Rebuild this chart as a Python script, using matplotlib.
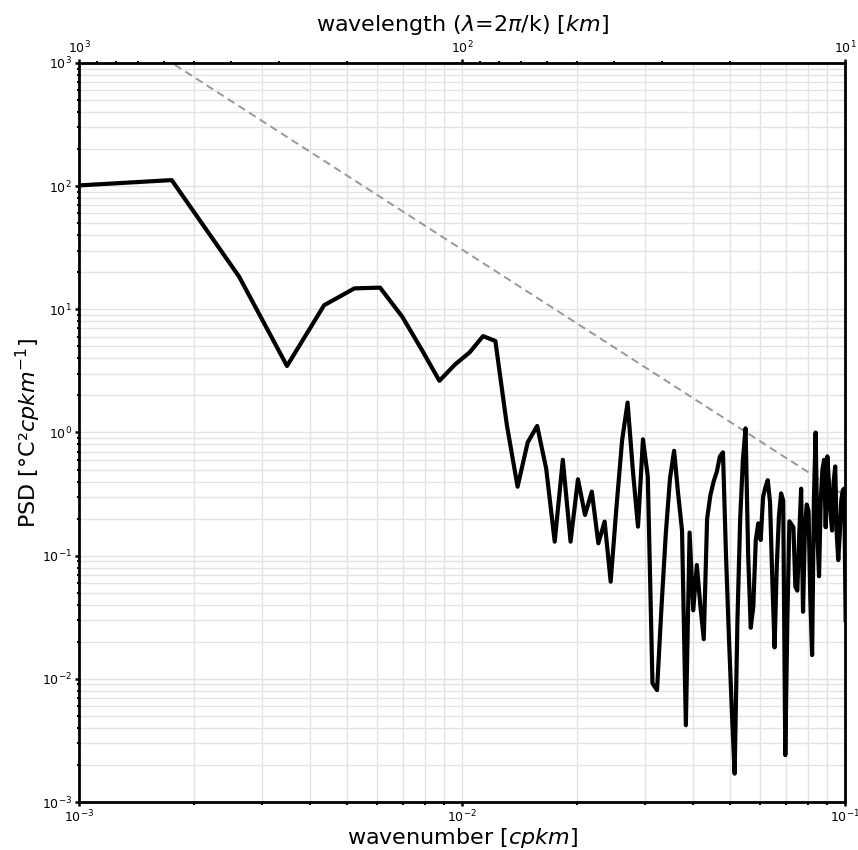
import numpy as np
import matplotlib
matplotlib.use('Agg')
import matplotlib.pyplot as plt

# wavenumber spacing [cpkm] and spectral estimates
dk = 0.000873
psd = [99, 112, 18.4, 3.47, 10.8, 14.8, 15.0, 8.7, 4.68, 2.63,
       3.58, 4.48, 6.06, 5.53, 1.15, 0.363, 0.83, 1.13, 0.51, 0.13,
       0.60, 0.13, 0.417, 0.214, 0.331, 0.126, 0.189, 0.0615, 0.25, 0.87,
       1.75, 0.49, 0.172, 0.88, 0.44, 0.0092, 0.0081, 0.038, 0.15, 0.425,
       0.71, 0.32, 0.16, 0.0042, 0.154, 0.036, 0.084, 0.0395, 0.021, 0.20,
       0.31, 0.40, 0.48, 0.64, 0.69, 0.103, 0.022, 0.0056, 0.0017, 0.03,
       0.2, 0.6, 1.08, 0.10, 0.026, 0.0386, 0.134, 0.183, 0.134, 0.30,
       0.36, 0.41, 0.27, 0.063, 0.018, 0.081, 0.21, 0.32, 0.28, 0.0024,
       0.03, 0.19, 0.18, 0.17, 0.056, 0.052, 0.15, 0.35, 0.035, 0.16,
       0.26, 0.23, 0.044, 0.0156, 0.28, 1.0, 0.15, 0.068, 0.28, 0.5,
       0.6, 0.17, 0.64, 0.39, 0.22, 0.16, 0.4, 0.53, 0.15, 0.092,
       0.15, 0.28, 0.34, 0.35, 0.03]

# reference slope line: PSD = amp * k^slope
ref_amp = 3.06e-3
ref_slope = -2

k = dk * np.arange(1, len(psd) + 1)
psd = np.array(psd)

fig = plt.figure(figsize=(8.58, 8.5), dpi=100)
ax = fig.add_axes([79 / 858, 1 - 802 / 850, 766 / 858, 739 / 850])

ax.loglog(k, psd, color='black', lw=3, zorder=3)
kk = np.logspace(-3, -1, 200)
ax.loglog(kk, ref_amp * kk ** ref_slope, color='#999999', lw=1.4,
          ls=(0, (4, 2.5)), zorder=2)

ax.set_xlim(1e-3, 1e-1)
ax.set_ylim(1e-3, 1e3)
ax.grid(True, which='both', color='#e3e3e3', lw=1, zorder=0)
ax.set_axisbelow(True)

for s in ax.spines.values():
    s.set_linewidth(2)
ax.tick_params(which='major', labelsize=9, width=1.8, length=3, pad=2)
ax.tick_params(which='minor', width=1.5, length=1.8)

ax.set_xlabel('wavenumber [$cpkm$]', fontsize=16, labelpad=0)
ax.set_ylabel('PSD [°C²$cpkm^{-1}$]', fontsize=16, labelpad=-1)

top = ax.secondary_xaxis('top', functions=(lambda x: 1 / x, lambda x: 1 / x))
top.tick_params(which='major', labelsize=9, width=1.8, length=3, pad=2)
top.tick_params(which='minor', width=1.5, length=1.8)
top.set_xlabel('wavelength ($\\lambda$=2$\\pi$/k) [$km$]', fontsize=16, labelpad=6)

fig.savefig('out.png', dpi=100)
